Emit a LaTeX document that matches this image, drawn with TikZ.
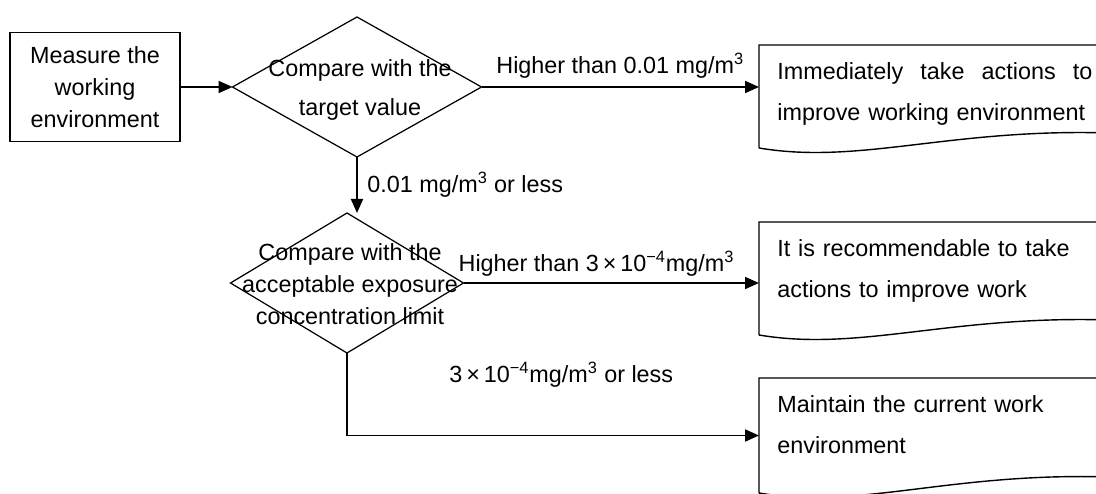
\documentclass[tikz,border=0pt]{standalone}
\usepackage{fontspec}
\setmainfont{Liberation Sans}
\usetikzlibrary{shapes.geometric,arrows.meta}

\tikzset{
	>={Triangle[length=0.28cm,width=0.24cm]},
	txt/.style={font=\fontsize{13.3}{18.2}\selectfont},
	proc/.style={draw,line width=0.8pt,minimum width=3.4cm,minimum height=2.18cm,align=center,txt},
	dec/.style={draw,diamond,line width=0.7pt,inner sep=0pt,outer sep=0pt},
	doc/.style={rectangle,inner sep=0pt,outer sep=0pt,anchor=north west,minimum width=7.02cm},
	doctext/.style={anchor=north west,inner sep=0pt,text width=6.3cm,align=left,font=\fontsize{13.3}{23.3}\selectfont},
	flow/.style={->,line width=1.1pt},
}

\begin{document}
\begin{tikzpicture}
		\clip (0,0) rectangle (21.92,-9.88);
		% start and checks
		\node[proc] (measure) at (1.90,-1.74) {Measure the\\working\\environment};
		\node[dec,minimum width=4.98cm,minimum height=2.8cm] (target) at (7.14,-1.74) {};
		\node[align=center,font=\fontsize{13.3}{22.7}\selectfont] (targettext) at (7.20,-1.80) {Compare with the\\target value};
		\node[dec,minimum width=4.66cm,minimum height=2.8cm] (limit) at (6.94,-5.66) {};
		\node[align=center,txt] (limittext) at (7.00,-5.68) {Compare with the\\acceptable exposure\\concentration limit};
		% results
		\node[doc,minimum height=2.06cm] (act) at (15.18,-0.90) {};
		\draw[line width=0.8pt] (act.south west) -- (act.north west) -- (act.north east) -- ([yshift=0.3cm]act.south east) .. controls +(-3.2,0.1) and +(2.02,-0.34) .. (act.south west);
		\node[doctext] (acttext) at (15.54,-1.24) {Immediately\hfill take\hfill actions\hfill to\\improve working environment};
		\node[doc,minimum height=2.26cm] (rec) at (15.18,-4.44) {};
		\draw[line width=0.8pt] (rec.south west) -- (rec.north west) -- (rec.north east) -- ([yshift=0.3cm]rec.south east) .. controls +(-3.2,0.1) and +(2.02,-0.34) .. (rec.south west);
		\node[doctext] (rectext) at (15.54,-4.78) {It is recommendable to take\\actions to improve work};
		\node[doc,minimum height=2.30cm] (keep) at (15.18,-7.56) {};
		\draw[line width=0.8pt] (keep.south west) -- (keep.north west) -- (keep.north east) -- ([yshift=0.32cm]keep.south east) .. controls +(-3.2,0.1) and +(2.02,-0.34) .. (keep.south west);
		\node[doctext] (keeptext) at (15.54,-7.90) {Maintain the current work\\environment};
		% connectors
		\draw[flow] (measure.east) -- (target.west);
		\draw[flow] (target.east) -- (target.east -| act.west) node[midway,above=1pt,txt] (hightarget) {Higher than 0.01 mg/m\textsuperscript{3}};
		\draw[flow] (target.south) -- (target.south |- limit.north) node[midway,right=2pt,txt] (lowtarget) {0.01 mg/m\textsuperscript{3} or less};
		\draw[flow] (limit.east) -- (limit.east -| rec.west) node[pos=0.45,above,txt] (highlimit) {Higher than 3\,×\,10\textsuperscript{−4}mg/m\textsuperscript{3}};
		\draw[flow] (limit.south) |- (keep.west) node[pos=0.76,above=0.82cm,txt] (lowlimit) {3\,×\,10\textsuperscript{−4}mg/m\textsuperscript{3} or less};
	\end{tikzpicture}
\end{document}
